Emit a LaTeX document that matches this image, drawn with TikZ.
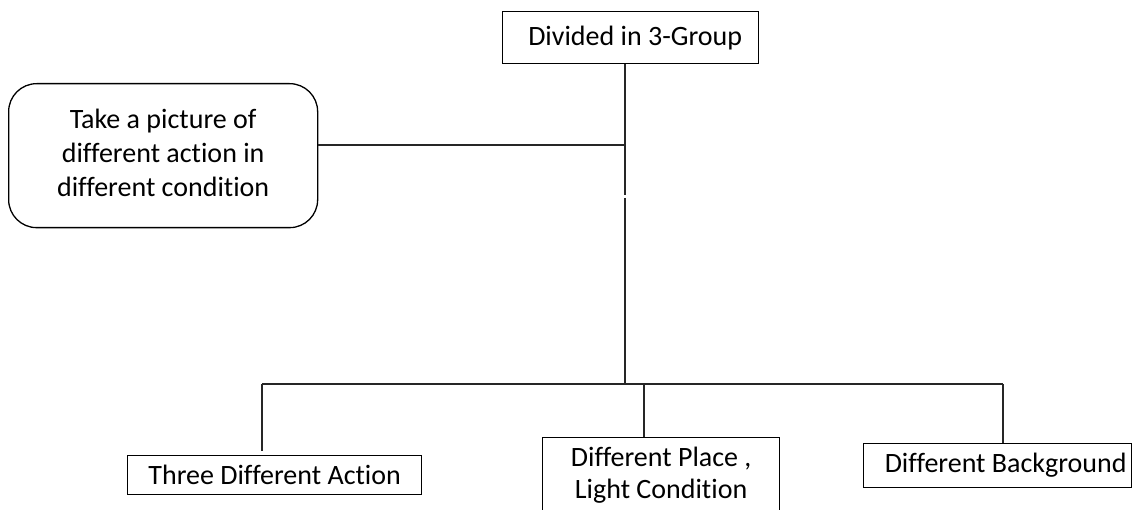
\documentclass[tikz,border=0pt]{standalone}
\usepackage{fontspec}
\setmainfont[Ligatures=NoCommon]{Carlito}
\begin{document}
\begin{tikzpicture}[x=1pt,y=-1pt,
  box/.style={draw=black,line width=1.3pt,inner sep=0pt,anchor=north west},
  roundbox/.style={box,rounded corners=28pt},
  conn/.style={draw=black!85,line width=1.6pt},
  txt/.style={font=\fontsize{28}{34}\selectfont,align=center}]
\useasboundingbox (0,0) rectangle (1134,510);
% boxes
\node[box,minimum width=256pt,minimum height=52pt,txt] (top) at (502,11) {\hspace{9pt}Divided in 3-Group};
\node[roundbox,minimum width=309pt,minimum height=144pt,txt] (pic) at (8,83) {\raisebox{14pt}{\begin{tabular}{@{}c@{}}Take a picture of\\different action in\\different condition\end{tabular}}};
\node[box,minimum width=294pt,minimum height=39pt,txt] (act) at (127,455) {Three Different Action};
\node[box,minimum width=237pt,minimum height=76pt,txt,font=\fontsize{28}{32}\selectfont] (place) at (542,437) {\raisebox{-5pt}{\begin{tabular}{@{}c@{}}Different Place ,\\Light Condition\end{tabular}}};
\node[box,minimum width=268pt,minimum height=44pt,txt] (bg) at (863,443) {\hspace{16pt}Different Background};
% trunk and branches
\coordinate (j1) at (625,145);
\coordinate (gap1) at (625,195);
\coordinate (gap2) at (625,198);
\coordinate (hub) at (625,384);
\coordinate (bl) at (262,384);
\coordinate (br) at (1003,384);
\path[conn] (top.south -| j1) -- (gap1);
\path[conn] (gap2) -- (hub);
\path[conn] (pic.east |- j1) -- (j1);
\path[conn] (bl) -- (br);
\path[conn] (bl) -- (262,451);
\path[conn] (place.north -| 644,0) -- (644,384);
\path[conn] (br) -- (bg.north -| br);
\end{tikzpicture}
\end{document}
